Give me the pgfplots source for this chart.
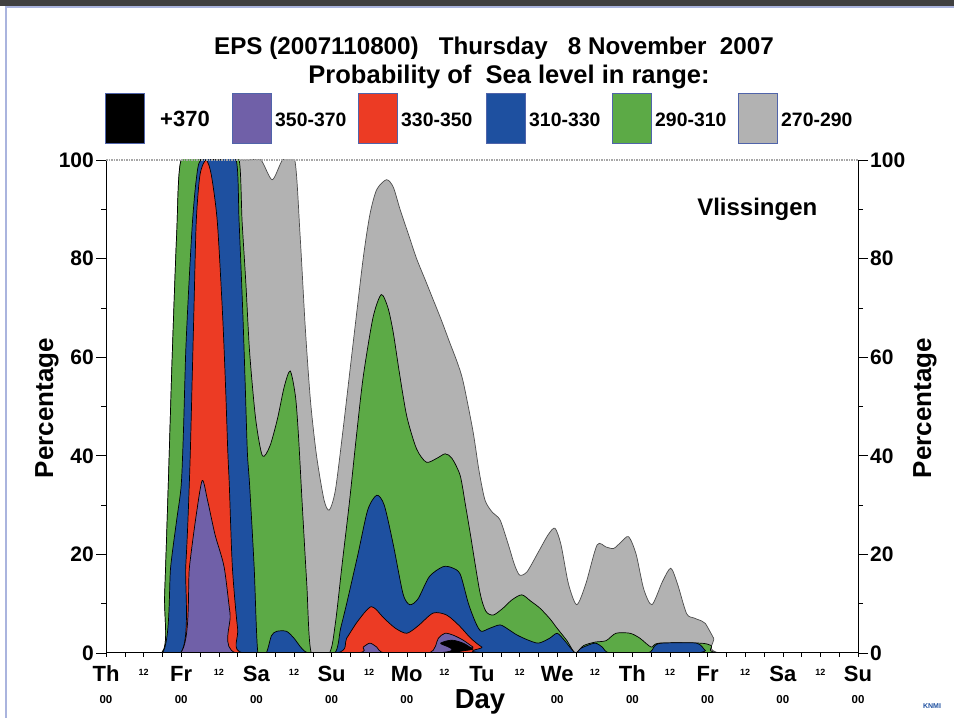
\documentclass[border=0pt]{standalone}
\usepackage{fontspec}
\setmainfont{Liberation Sans}
\usepackage{pgfplots}
\pgfplotsset{compat=1.18}
\definecolor{cpur}{RGB}{112,96,168}
\definecolor{cred}{RGB}{236,59,36}
\definecolor{cblu}{RGB}{30,80,160}
\definecolor{cgrn}{RGB}{92,170,70}
\definecolor{cgry}{RGB}{178,178,178}
\definecolor{frameblue}{RGB}{170,180,222}
\definecolor{boxedge}{RGB}{80,100,170}
\newcommand{\sm}[1]{\raisebox{6pt}{\fontsize{9}{9}\selectfont #1}}
\begin{document}
\begin{tikzpicture}[x=1pt,y=1pt]
\path[use as bounding box] (0,0) rectangle (954,718);
% frame
\fill[black!75] (0,712) rectangle (954,718);
\draw[frameblue, line width=1.5pt] (6,0) -- (6,711) -- (954,711);
% titles
\node[anchor=base, font=\fontsize{24.2}{26}\selectfont\bfseries] at (494,663) {EPS (2007110800)\ \ \ Thursday\ \ \ 8 November\ \ 2007};
\node[anchor=base, font=\fontsize{25.5}{27}\selectfont\bfseries] at (509,634) {Probability of\ \ Sea level in range:};
% legend
\foreach \x/\c/\t in {105/black/{},232/cpur/{350-370},358/cred/{330-350},486/cblu/{310-330},612/cgrn/{290-310},738/cgry/{270-290}}{
  \filldraw[fill=\c, draw=boxedge, line width=0.8pt] (\x,575) rectangle ++(39,50);
  \node[anchor=west, inner sep=0pt, font=\fontsize{19.4}{21}\selectfont\bfseries] at (\x+43,598) {\t};
}
\node[anchor=west, inner sep=0pt, font=\fontsize{22}{24}\selectfont\bfseries] at (160,599) {+370};
% main data axis
\begin{axis}[at={(106pt,65pt)}, anchor=south west, width=752pt, height=493pt, scale only axis,
  xmin=0, xmax=10, ymin=0, ymax=100,
  axis x line*=bottom, axis y line=none, axis on top,
  axis line style={line width=1pt},
  xtick={0,0.5,1,1.5,2,2.5,3,3.5,4,4.5,5,5.5,6,6.5,7,7.5,8,8.5,9,9.5,10},
  xticklabels={Th,\sm{12},Fr,\sm{12},Sa,\sm{12},Su,\sm{12},Mo,\sm{12},Tu,\sm{12},We,\sm{12},Th,\sm{12},Fr,\sm{12},Sa,\sm{12},Su},
  minor x tick num=1,
  tick align=outside, major tick length=4pt, minor tick length=4pt,
  tick style={black, line width=0.6pt},
  xticklabel style={font=\fontsize{22}{22}\selectfont\bfseries, inner sep=0pt, anchor=base, yshift=-25pt},
  every axis plot/.append style={smooth, tension=0.45, draw=black, line width=0.7pt},
]
\addplot[fill=cgry, draw=black!70] coordinates {(0,0)(0.74,0)(0.78,12)(0.83,35)(0.88,60)(0.94,85)(1.0,100)(1.3,100)(1.6,100)(1.9,100)(2.06,100)(2.21,96)(2.35,100)(2.51,100)(2.58,85)(2.65,66)(2.72,51)(2.8,40)(2.9,31)(2.97,29)(3.05,33)(3.15,45)(3.28,62)(3.42,80)(3.51,89)(3.6,94)(3.73,96)(3.82,94.5)(3.91,90)(4.02,85)(4.13,80)(4.25,75.5)(4.35,71.7)(4.46,67.5)(4.57,63)(4.67,59)(4.75,55)(4.88,45)(4.96,37)(5.04,31)(5.14,28.5)(5.24,27)(5.35,22)(5.43,18)(5.5,15.8)(5.6,16.5)(5.75,20.5)(5.88,24)(5.97,25.3)(6.05,22)(6.15,14)(6.26,9.8)(6.38,14)(6.53,21.9)(6.65,21.5)(6.75,21.2)(6.85,22.5)(6.95,23.6)(7.05,20)(7.15,13)(7.26,9.8)(7.4,14.5)(7.51,17.2)(7.6,14)(7.72,8)(7.82,7.1)(7.92,6.5)(7.97,6)(8.08,3)(8.18,0)(10,0)} \closedcycle;
\addplot[fill=cgrn] coordinates {(0,0)(0.74,0)(0.78,12)(0.83,35)(0.88,60)(0.94,85)(1.0,100)(1.3,100)(1.6,100)(1.77,100)(1.81,87.5)(1.86,75)(1.91,61)(1.99,47.5)(2.08,40)(2.18,42)(2.28,47.5)(2.37,54)(2.45,57.2)(2.52,52)(2.56,44)(2.61,30)(2.67,14)(2.73,0)(2.97,0)(3.05,6)(3.14,18)(3.24,31)(3.33,44)(3.42,56)(3.55,68)(3.66,72.7)(3.75,70)(3.82,65)(3.9,57)(4.0,48)(4.13,41.4)(4.26,38.7)(4.4,39.5)(4.51,40.4)(4.6,39.5)(4.71,36)(4.78,30)(4.84,24.6)(4.97,12.5)(5.05,8.5)(5.15,7.7)(5.28,9.1)(5.4,10.8)(5.53,11.8)(5.65,10.5)(5.77,9.1)(5.9,7)(6.0,5)(6.13,2.5)(6.24,0)(6.35,1.5)(6.5,2.2)(6.65,2.5)(6.78,4)(6.97,4)(7.1,3)(7.25,1.2)(7.35,2)(7.9,2)(8.05,1.5)(8.18,0)(10,0)} \closedcycle;
\addplot[fill=cblu] coordinates {(0,0)(0.75,0)(0.86,17.5)(0.94,27)(1.0,34)(1.03,45)(1.06,61)(1.1,74)(1.15,87.5)(1.2,96)(1.26,100)(1.5,100)(1.73,100)(1.77,87.5)(1.82,68.7)(1.85,55)(1.88,40.7)(1.91,34)(1.97,17.5)(2.02,0)(2.13,0)(2.2,3.5)(2.27,4.4)(2.4,4.4)(2.5,3)(2.6,1)(2.7,0)(3.04,0)(3.12,5)(3.2,10)(3.35,20)(3.48,29)(3.6,32)(3.7,30)(3.82,22)(3.95,12)(4.04,9.8)(4.15,11)(4.3,15.5)(4.48,17.5)(4.6,17.3)(4.71,16)(4.82,10)(4.92,6)(4.99,4.4)(5.1,5)(5.24,5.7)(5.35,4.8)(5.46,3.7)(5.6,2.7)(5.75,2)(5.9,3)(6.0,4)(6.1,2.5)(6.24,0)(6.32,1)(6.5,2)(6.6,1.2)(6.7,0)(7.2,0)(7.3,1.5)(7.4,2)(7.85,2)(7.97,0.5)(8.05,0)(10,0)} \closedcycle;
\addplot[fill=cred] coordinates {(0,0)(0.99,0)(1.06,17.5)(1.09,27)(1.12,40)(1.15,58)(1.17,70)(1.2,87.5)(1.25,97)(1.33,100)(1.4,97)(1.48,87.5)(1.55,68.7)(1.59,54)(1.62,40.7)(1.64,34)(1.68,17.5)(1.75,5)(1.82,0)(3.06,0)(3.2,3)(3.35,6.5)(3.53,9.4)(3.7,7)(3.85,5)(4.0,4)(4.15,5.5)(4.35,8.1)(4.53,7.7)(4.7,5.5)(4.85,3)(5.0,1.2)(5.2,0)(10,0)} \closedcycle;
\addplot[fill=cpur] coordinates {(0,0)(0.99,0)(1.11,17.5)(1.2,28)(1.28,35)(1.35,31)(1.45,24)(1.57,17.5)(1.65,8)(1.73,0)(3.31,0)(3.42,1.2)(3.51,2)(3.6,1.2)(3.71,0)(4.3,0)(4.42,3)(4.51,4)(4.62,3.6)(4.75,2.6)(4.88,1.2)(5.0,0)(10,0)} \closedcycle;
\addplot[fill=black] coordinates {(0,0)(4.33,0)(4.45,2)(4.6,2.6)(4.75,2)(4.88,0.8)(4.98,0)(10,0)} \closedcycle;
\node[anchor=west, font=\fontsize{24}{26}\selectfont\bfseries, inner sep=0pt] at (axis cs:7.86,90) {Vlissingen};
\end{axis}
% left y axis
\begin{axis}[at={(106pt,65pt)}, anchor=south west, width=752pt, height=493pt, scale only axis,
  xmin=0, xmax=10, ymin=0, ymax=100,
  axis x line=none, axis y line*=left,
  axis line style={line width=1pt},
  ytick={0,20,...,100}, minor y tick num=1,
  tick align=outside, major tick length=10pt, minor tick length=5pt,
  tick style={black, line width=0.6pt},
  /pgf/number format/assume math mode=true,
  yticklabel style={font=\fontsize{21}{21}\selectfont\bfseries, inner sep=0pt, xshift=-2pt},
]
\end{axis}
% right y axis
\begin{axis}[at={(106pt,65pt)}, anchor=south west, width=752pt, height=493pt, scale only axis,
  xmin=0, xmax=10, ymin=0, ymax=100,
  axis x line=none, axis y line*=right,
  axis line style={line width=1pt},
  ytick={0,20,...,100}, minor y tick num=1,
  tick align=outside, major tick length=10pt, minor tick length=5pt,
  tick style={black, line width=0.6pt},
  /pgf/number format/assume math mode=true,
  yticklabel style={font=\fontsize{21}{21}\selectfont\bfseries, inner sep=0pt, xshift=2pt},
]
\end{axis}
\node[rotate=90, font=\fontsize{26}{28}\selectfont\bfseries, inner sep=0pt] at (47,310) {Percentage};
\node[rotate=90, font=\fontsize{26}{28}\selectfont\bfseries, inner sep=0pt] at (925,310) {Percentage};
\draw[black!35, line width=1.2pt, dash pattern=on 1.5pt off 1pt] (106,558) -- (858,558);
\foreach \i in {0,1,2,3,4,6,7,8,9,10}{
  \node[font=\fontsize{11.5}{11.5}\selectfont\bfseries, inner sep=0pt] at ({106+75.2*\i},18) {00};
}
\node[anchor=base, font=\fontsize{27.5}{29}\selectfont\bfseries, inner sep=0pt] at (480,9) {Day};
\node[anchor=base, font=\fontsize{7}{7}\selectfont\bfseries, text=cblu, inner sep=0pt] at (932,9) {KNMI};
\end{tikzpicture}
\end{document}
